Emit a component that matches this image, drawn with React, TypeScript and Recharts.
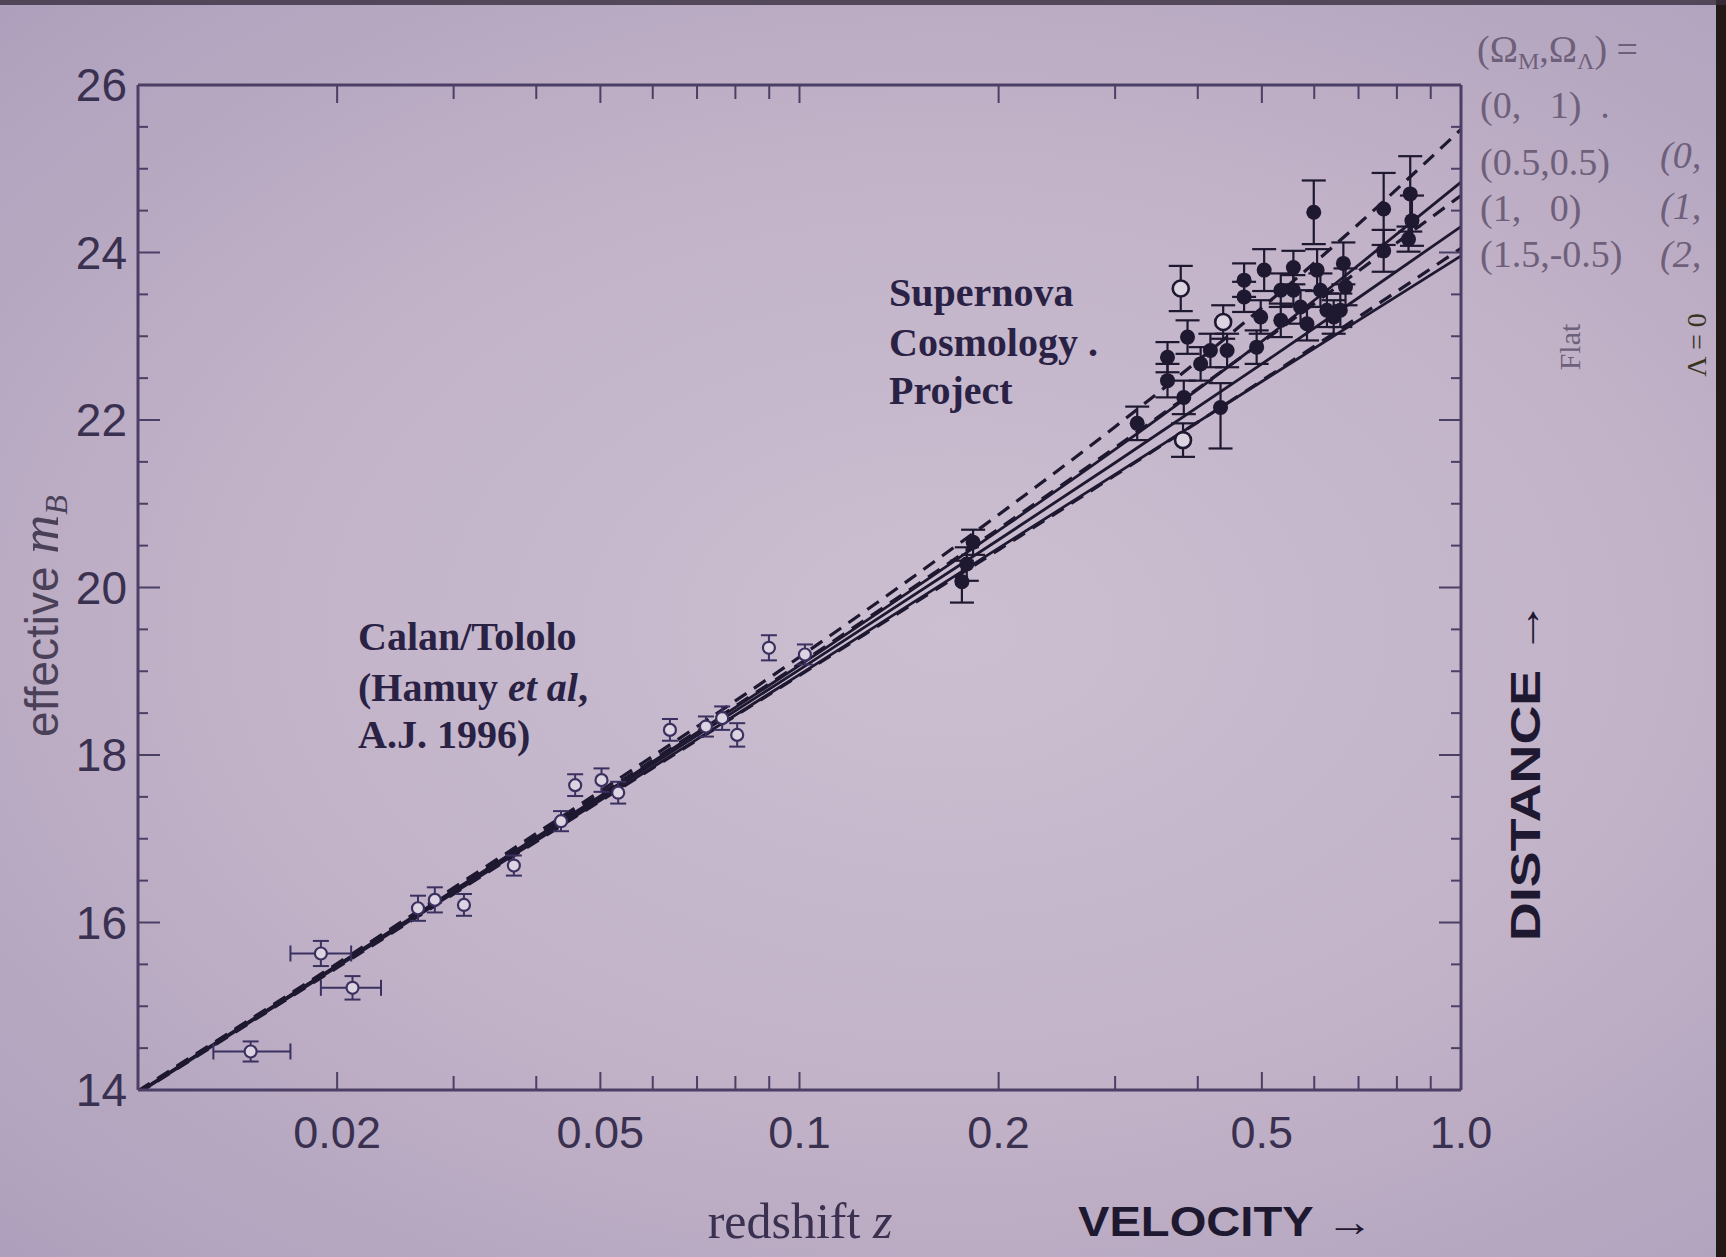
import React from 'react';
import { ComposedChart, XAxis, YAxis, Scatter, Line, ErrorBar } from 'recharts';

// redshift ticks (log axis) and which ones carry a label
const zTicks = [0.01, 0.02, 0.03, 0.04, 0.05, 0.06, 0.07, 0.08, 0.09, 0.1, 0.2, 0.3, 0.4, 0.5, 0.6, 0.7, 0.8, 0.9, 1.0];
const zLabelValues = [0.02, 0.05, 0.1, 0.2, 0.5, 1.0];
const zLabels = ['0.02', '0.05', '0.1', '0.2', '0.5', '1.0'];

// magnitude ticks
const mTicks = [14, 14.5, 15, 15.5, 16, 16.5, 17, 17.5, 18, 18.5, 19, 19.5, 20, 20.5, 21, 21.5, 22, 22.5, 23, 23.5, 24, 24.5, 25, 25.5, 26];
const mLabelValues = [14, 16, 18, 20, 22, 24, 26];

// Calan/Tololo, low-z points with x and y error bars
const calanXErr = [
  { z: 0.0148, m: 14.46, ey: 0.12, ex: [0.0018, 0.0022] },
  { z: 0.0189, m: 15.63, ey: 0.15, ex: [0.0019, 0.0021] },
  { z: 0.0211, m: 15.22, ey: 0.14, ex: [0.0022, 0.0022] },
];

// Calan/Tololo, remaining points
const calanPoints = [
  { z: 0.0265, m: 16.17, ey: 0.15 },
  { z: 0.0281, m: 16.27, ey: 0.15 },
  { z: 0.0311, m: 16.21, ey: 0.13 },
  { z: 0.037, m: 16.68, ey: 0.12 },
  { z: 0.0436, m: 17.21, ey: 0.12 },
  { z: 0.0458, m: 17.64, ey: 0.13 },
  { z: 0.0502, m: 17.7, ey: 0.14 },
  { z: 0.0532, m: 17.55, ey: 0.13 },
  { z: 0.0637, m: 18.3, ey: 0.13 },
  { z: 0.0722, m: 18.34, ey: 0.12 },
  { z: 0.0764, m: 18.44, ey: 0.14 },
  { z: 0.0805, m: 18.24, ey: 0.14 },
  { z: 0.0899, m: 19.28, ey: 0.15 },
  { z: 0.1019, m: 19.2, ey: 0.12 },
];

// Supernova Cosmology Project, filled points
const scpFilled = [
  { z: 0.176, m: 20.07, ey: 0.25 },
  { z: 0.179, m: 20.28, ey: 0.2 },
  { z: 0.183, m: 20.54, ey: 0.15 },
  { z: 0.324, m: 21.96, ey: 0.2 },
  { z: 0.36, m: 22.47, ey: 0.2 },
  { z: 0.36, m: 22.75, ey: 0.18 },
  { z: 0.381, m: 22.27, ey: 0.2 },
  { z: 0.386, m: 22.99, ey: 0.2 },
  { z: 0.404, m: 22.67, ey: 0.2 },
  { z: 0.418, m: 22.83, ey: 0.2 },
  { z: 0.433, m: 22.15, ey: [0.49, 0.29] },
  { z: 0.443, m: 22.83, ey: 0.2 },
  { z: 0.47, m: 23.67, ey: 0.2 },
  { z: 0.47, m: 23.47, ey: 0.18 },
  { z: 0.491, m: 22.87, ey: 0.2 },
  { z: 0.498, m: 23.23, ey: 0.2 },
  { z: 0.504, m: 23.79, ey: 0.25 },
  { z: 0.534, m: 23.19, ey: 0.2 },
  { z: 0.534, m: 23.55, ey: 0.2 },
  { z: 0.558, m: 23.82, ey: 0.2 },
  { z: 0.558, m: 23.55, ey: 0.18 },
  { z: 0.572, m: 23.35, ey: 0.2 },
  { z: 0.585, m: 23.15, ey: 0.2 },
  { z: 0.599, m: 24.48, ey: 0.38 },
  { z: 0.606, m: 23.79, ey: 0.25 },
  { z: 0.613, m: 23.55, ey: 0.2 },
  { z: 0.627, m: 23.31, ey: 0.2 },
  { z: 0.642, m: 23.23, ey: 0.2 },
  { z: 0.657, m: 23.31, ey: 0.2 },
  { z: 0.664, m: 23.87, ey: 0.25 },
  { z: 0.669, m: 23.59, ey: 0.22 },
  { z: 0.764, m: 24.52, ey: 0.43 },
  { z: 0.764, m: 24.02, ey: 0.25 },
  { z: 0.833, m: 24.16, ey: 0.15 },
  { z: 0.838, m: 24.7, ey: 0.45 },
  { z: 0.843, m: 24.38, ey: 0.3 },
];

// Supernova Cosmology Project, open points
const scpOpen = [
  { z: 0.377, m: 23.57, ey: 0.27 },
  { z: 0.38, m: 21.76, ey: 0.2 },
  { z: 0.437, m: 23.17, ey: 0.2 },
];

// model curves, read at these redshifts
const zModel = [0.01, 0.02, 0.05, 0.1, 0.2, 0.3, 0.5, 0.7, 1.0];
const mFlat0_1 = [13.99, 15.51, 17.57, 19.17, 20.87, 21.92, 23.34, 24.34, 25.47];
const mFlat05_05 = [13.98, 15.5, 17.53, 19.09, 20.7, 21.67, 22.93, 23.78, 24.68];
const mFlat15_m05 = [13.96, 15.46, 17.45, 18.95, 20.45, 21.34, 22.47, 23.23, 24.05];
const mOpen0_0 = [13.97, 15.49, 17.51, 19.07, 20.68, 21.65, 22.94, 23.85, 24.84];
const mEdS1_0 = [13.97, 15.48, 17.49, 19.02, 20.57, 21.49, 22.67, 23.46, 24.31];
const mClosed2_0 = [13.96, 15.47, 17.46, 18.96, 20.47, 21.35, 22.46, 23.19, 23.96];

const toCurve = (ms: number[]) => zModel.map((z, i) => ({ z, m: ms[i] }));

const W = 1726;
const H = 1257;
const PLOT_LEFT = 138;
const PLOT_RIGHT = 1461;
const PLOT_TOP = 85;
const PLOT_BOTTOM = 1090;

const AXIS = '#4c3f66';
const INK = '#1e1830';
const LABEL = '#3a3050';
const LEGEND = '#6e5f7a';
const SANS = '"Liberation Sans", Arial, sans-serif';
const SERIF = '"Liberation Serif", "Times New Roman", serif';

const BottomTick = (props: any) => {
  const { x, payload } = props;
  const idx = zLabelValues.indexOf(payload.value);
  const len = idx >= 0 ? 18 : 14;
  return (
    <g>
      <line x1={x} x2={x} y1={PLOT_BOTTOM} y2={PLOT_BOTTOM - len} stroke={AXIS} strokeWidth={2} />
      {idx >= 0 && (
        <text x={x} y={PLOT_BOTTOM + 58} textAnchor="middle" fontSize={45} fontFamily={SANS} fill={LABEL}>
          {zLabels[idx]}
        </text>
      )}
    </g>
  );
};

const TopTick = (props: any) => {
  const { x, payload } = props;
  const len = zLabelValues.indexOf(payload.value) >= 0 ? 18 : 14;
  return <line x1={x} x2={x} y1={PLOT_TOP} y2={PLOT_TOP + len} stroke={AXIS} strokeWidth={2} />;
};

const LeftTick = (props: any) => {
  const { y, payload } = props;
  const major = mLabelValues.indexOf(payload.value) >= 0;
  return (
    <g>
      <line x1={PLOT_LEFT} x2={PLOT_LEFT + (major ? 22 : 10)} y1={y} y2={y} stroke={AXIS} strokeWidth={2} />
      {major && (
        <text x={127} y={y + 16} textAnchor="end" fontSize={46} fontFamily={SANS} fill={LABEL}>
          {payload.value}
        </text>
      )}
    </g>
  );
};

const RightTick = (props: any) => {
  const { y, payload } = props;
  const major = mLabelValues.indexOf(payload.value) >= 0;
  return <line x1={PLOT_RIGHT} x2={PLOT_RIGHT - (major ? 22 : 10)} y1={y} y2={y} stroke={AXIS} strokeWidth={2} />;
};

const OpenDot = (props: any) => (
  <circle cx={props.cx} cy={props.cy} r={6} fill="#ddd4e2" stroke="#3a3160" strokeWidth={2.2} />
);
const BigOpenDot = (props: any) => (
  <circle cx={props.cx} cy={props.cy} r={8} fill="#ddd4e2" stroke={INK} strokeWidth={2.6} />
);
const FilledDot = (props: any) => <circle cx={props.cx} cy={props.cy} r={7.5} fill={INK} />;

const App = () => {
  return (
    <div
      style={{
        position: 'absolute',
        left: 0,
        top: 0,
        width: W,
        height: H,
        overflow: 'hidden',
        background: 'radial-gradient(ellipse at 55% 50%, #ccbfd1 0%, #c1b2c8 55%, #ae9fbc 100%)',
      }}
    >
      <ComposedChart width={W} height={H} margin={{ top: 80, right: 260, bottom: 107, left: 58 }}>
        <XAxis
          xAxisId="b"
          dataKey="z"
          type="number"
          scale="log"
          domain={[0.01, 1]}
          allowDataOverflow
          ticks={zTicks}
          interval={0}
          tickLine={false}
          tickSize={0}
          tick={(p: any) => <BottomTick {...p} />}
          axisLine={{ stroke: AXIS, strokeWidth: 3 }}
          height={60}
        />
        <XAxis
          xAxisId="t"
          orientation="top"
          dataKey="z"
          type="number"
          scale="log"
          domain={[0.01, 1]}
          allowDataOverflow
          ticks={zTicks}
          interval={0}
          tickLine={false}
          tickSize={0}
          tick={(p: any) => <TopTick {...p} />}
          axisLine={{ stroke: AXIS, strokeWidth: 3 }}
          height={5}
        />
        <YAxis
          yAxisId="l"
          dataKey="m"
          type="number"
          domain={[14, 26]}
          allowDataOverflow
          ticks={mTicks}
          interval={0}
          tickLine={false}
          tickSize={0}
          tick={(p: any) => <LeftTick {...p} />}
          axisLine={{ stroke: AXIS, strokeWidth: 3 }}
          width={80}
        />
        <YAxis
          yAxisId="r"
          orientation="right"
          dataKey="m"
          type="number"
          domain={[14, 26]}
          allowDataOverflow
          ticks={mTicks}
          interval={0}
          tickLine={false}
          tickSize={0}
          tick={(p: any) => <RightTick {...p} />}
          axisLine={{ stroke: AXIS, strokeWidth: 3 }}
          width={5}
        />

        {/* flat models, dashed */}
        <Line xAxisId="b" yAxisId="l" data={toCurve(mFlat0_1)} dataKey="m" type="monotone" dot={false}
          stroke={INK} strokeWidth={3.2} strokeDasharray="14 9" isAnimationActive={false} />
        <Line xAxisId="b" yAxisId="l" data={toCurve(mFlat05_05)} dataKey="m" type="monotone" dot={false}
          stroke={INK} strokeWidth={3.2} strokeDasharray="14 9" isAnimationActive={false} />
        <Line xAxisId="b" yAxisId="l" data={toCurve(mFlat15_m05)} dataKey="m" type="monotone" dot={false}
          stroke={INK} strokeWidth={3.2} strokeDasharray="14 9" isAnimationActive={false} />
        {/* zero-Lambda models, solid */}
        <Line xAxisId="b" yAxisId="l" data={toCurve(mOpen0_0)} dataKey="m" type="monotone" dot={false}
          stroke={INK} strokeWidth={2.8} isAnimationActive={false} />
        <Line xAxisId="b" yAxisId="l" data={toCurve(mEdS1_0)} dataKey="m" type="monotone" dot={false}
          stroke={INK} strokeWidth={2.8} isAnimationActive={false} />
        <Line xAxisId="b" yAxisId="l" data={toCurve(mClosed2_0)} dataKey="m" type="monotone" dot={false}
          stroke={INK} strokeWidth={2.8} isAnimationActive={false} />

        <Scatter xAxisId="b" yAxisId="l" data={calanXErr} shape={OpenDot} isAnimationActive={false}>
          <ErrorBar dataKey="ey" direction="y" width={8} stroke="#3a3160" strokeWidth={2} />
          <ErrorBar dataKey="ex" direction="x" width={8} stroke="#3a3160" strokeWidth={2} />
        </Scatter>
        <Scatter xAxisId="b" yAxisId="l" data={calanPoints} shape={OpenDot} isAnimationActive={false}>
          <ErrorBar dataKey="ey" direction="y" width={8} stroke="#3a3160" strokeWidth={2} />
        </Scatter>
        <Scatter xAxisId="b" yAxisId="l" data={scpFilled} shape={FilledDot} isAnimationActive={false}>
          <ErrorBar dataKey="ey" direction="y" width={12} stroke={INK} strokeWidth={2.2} />
        </Scatter>
        <Scatter xAxisId="b" yAxisId="l" data={scpOpen} shape={BigOpenDot} isAnimationActive={false}>
          <ErrorBar dataKey="ey" direction="y" width={12} stroke={INK} strokeWidth={2.2} />
        </Scatter>
      </ComposedChart>

      <svg width={W} height={H} style={{ position: 'absolute', left: 0, top: 0, pointerEvents: 'none' }}>
        {/* annotations */}
        <g fontFamily={SERIF} fontWeight="bold" fontSize={40} fill="#2a2245">
          <text x={889} y={306}>Supernova</text>
          <text x={889} y={356}>Cosmology .</text>
          <text x={889} y={404}>Project</text>
          <text x={358} y={650}>Calan/Tololo</text>
          <text x={358} y={701}>
            (Hamuy <tspan fontStyle="italic">et al</tspan>,
          </text>
          <text x={358} y={748}>A.J. 1996)</text>
        </g>

        {/* axis titles */}
        <text transform="rotate(-90 58 616)" x={58} y={616} textAnchor="middle" fontSize={46} fontFamily={SANS} fill="#4a4058">
          effective <tspan fontFamily={SERIF} fontStyle="italic" fontSize={54}>m</tspan>
          <tspan fontFamily={SERIF} fontStyle="italic" fontSize={32} dy={9}>B</tspan>
        </text>
        <text x={800} y={1238} textAnchor="middle" fontSize={50} fontFamily={SERIF} fill="#3a3050">
          redshift  <tspan fontStyle="italic">z</tspan>
        </text>
        <text x={1078} y={1236} fontSize={42} fontWeight="bold" fontFamily={SANS} fill="#1e1830"
          textLength={295} lengthAdjust="spacingAndGlyphs">VELOCITY →</text>
        <text transform="rotate(-90 1540 941)" x={1540} y={941} fontSize={42} fontWeight="bold" fontFamily={SANS}
          fill="#1e1830" textLength={340} lengthAdjust="spacingAndGlyphs">DISTANCE →</text>

        {/* model legend */}
        <g fontFamily={SERIF} fontSize={38} fill={LEGEND}>
          <text x={1477} y={62}>
            (Ω<tspan fontSize={24} dy={7}>M</tspan><tspan dy={-7}>,Ω</tspan><tspan fontSize={24} dy={7}>Λ</tspan><tspan dy={-7}>) =</tspan>
          </text>
          <text x={1480} y={118} xmlSpace="preserve">(0,   1)  .</text>
          <text x={1480} y={175}>(0.5,0.5)</text>
          <text x={1480} y={221} xmlSpace="preserve">(1,   0)</text>
          <text x={1480} y={267}>(1.5,-0.5)</text>
          <g fontStyle="italic">
            <text x={1660} y={168}>(0,</text>
            <text x={1660} y={219}>(1,</text>
            <text x={1660} y={267}>(2,</text>
          </g>
          <text transform="rotate(-90 1580 347)" x={1580} y={347} textAnchor="middle" fontSize={30}>Flat</text>
          <text transform="rotate(-90 1706 345)" x={1706} y={345} textAnchor="middle" fontSize={28} fill="#3a3320">Λ = 0</text>
        </g>

        {/* photo frame edges */}
        <rect x={1716} y={0} width={10} height={H} fill="#231a18" />
        <rect x={0} y={0} width={W} height={5} fill="#3a2f40" opacity={0.8} />
      </svg>
    </div>
  );
};

export default App;
